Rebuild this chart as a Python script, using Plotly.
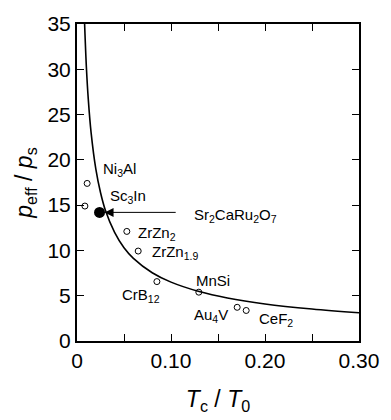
import plotly.graph_objects as go

# Theoretical curve
curve_x = [0.0081, 0.010, 0.012, 0.015, 0.020, 0.025, 0.030, 0.040, 0.050, 0.060,
           0.080, 0.100, 0.130, 0.160, 0.200, 0.250, 0.300]
curve_y = [35.0, 30.2, 26.7, 23.0, 19.0, 16.4, 14.5, 12.0, 10.3, 9.13,
           7.54, 6.50, 5.46, 4.75, 4.09, 3.53, 3.12]

# Open-circle data points
pts_x = [0.0108, 0.0084, 0.053, 0.0651, 0.085, 0.1296, 0.1704, 0.180]
pts_y = [17.4, 14.9, 12.1, 9.93, 6.56, 5.39, 3.72, 3.37]

# Filled point (Sr2CaRu2O7)
sr_x = [0.024]
sr_y = [14.2]

# Labels: text, x, y
labels = ["Ni<sub>3</sub>Al", "Sc<sub>3</sub>In", "Sr<sub>2</sub>CaRu<sub>2</sub>O<sub>7</sub>",
          "ZrZn<sub>2</sub>", "ZrZn<sub>1.9</sub>", "CrB<sub>12</sub>", "MnSi",
          "Au<sub>4</sub>V", "CeF<sub>2</sub>"]
label_x = [0.045, 0.0544, 0.1688, 0.0847, 0.104, 0.0685, 0.1442, 0.143, 0.212]
label_y = [18.9, 15.9, 13.9, 11.9, 9.8, 5.0, 6.7, 2.8, 2.4]

x_tickvals = [0, 0.10, 0.20, 0.30]
x_ticktext = ["0", "0.10", "0.20", "0.30"]
y_tickvals = [0, 5, 10, 15, 20, 25, 30, 35]

FONT = "Liberation Sans, Arial, Helvetica, sans-serif"

fig = go.Figure()
fig.add_trace(go.Scatter(x=curve_x, y=curve_y, mode="lines",
                         line=dict(color="black", width=1.6, shape="spline"),
                         showlegend=False, hoverinfo="skip"))
fig.add_trace(go.Scatter(x=pts_x, y=pts_y, mode="markers",
                         marker=dict(symbol="circle-open", size=6, color="black",
                                     line=dict(width=1, color="black")),
                         showlegend=False))
fig.add_trace(go.Scatter(x=sr_x, y=sr_y, mode="markers",
                         marker=dict(symbol="circle", size=11, color="black"),
                         showlegend=False))

for t, lx, ly in zip(labels, label_x, label_y):
    fig.add_annotation(x=lx, y=ly, text=t, showarrow=False,
                       font=dict(family=FONT, size=15, color="black"))

# Arrow pointing to the filled point
fig.add_annotation(x=0.0293, y=sr_y[0], ax=0.1066, ay=sr_y[0],
                   xref="x", yref="y", axref="x", ayref="y",
                   text="", showarrow=True, arrowhead=2, arrowsize=1.8,
                   arrowwidth=1, arrowcolor="black")

fig.update_layout(
    width=391, height=420,
    margin=dict(l=77, r=27, t=15, b=76),
    paper_bgcolor="white", plot_bgcolor="white",
    font=dict(family=FONT, color="black"),
    xaxis=dict(range=[0, 0.30], tickvals=x_tickvals, ticktext=x_ticktext,
               ticks="inside", ticklen=7, tickwidth=1.2, tickcolor="black",
               minor=dict(dtick=0.05, ticks="inside", ticklen=7, tickwidth=1.2,
                          tickcolor="black", showgrid=False),
               showline=True, linecolor="black", linewidth=2, mirror="ticks",
               showgrid=False, zeroline=False,
               tickfont=dict(size=21, family=FONT),
               title=dict(text="<i>T</i><sub>c</sub> / <i>T</i><sub>0</sub>",
                          font=dict(size=23, family=FONT), standoff=20)),
    yaxis=dict(range=[0, 35], tickvals=y_tickvals,
               ticks="inside", ticklen=7, tickwidth=1.2, tickcolor="black",
               showline=True, linecolor="black", linewidth=2, mirror="ticks",
               showgrid=False, zeroline=False,
               tickfont=dict(size=21, family=FONT),
               title=dict(text="<i>p</i><sub>eff</sub> / <i>p</i><sub>s</sub>",
                          font=dict(size=23, family=FONT), standoff=8)),
)

fig.write_html("out.html")
